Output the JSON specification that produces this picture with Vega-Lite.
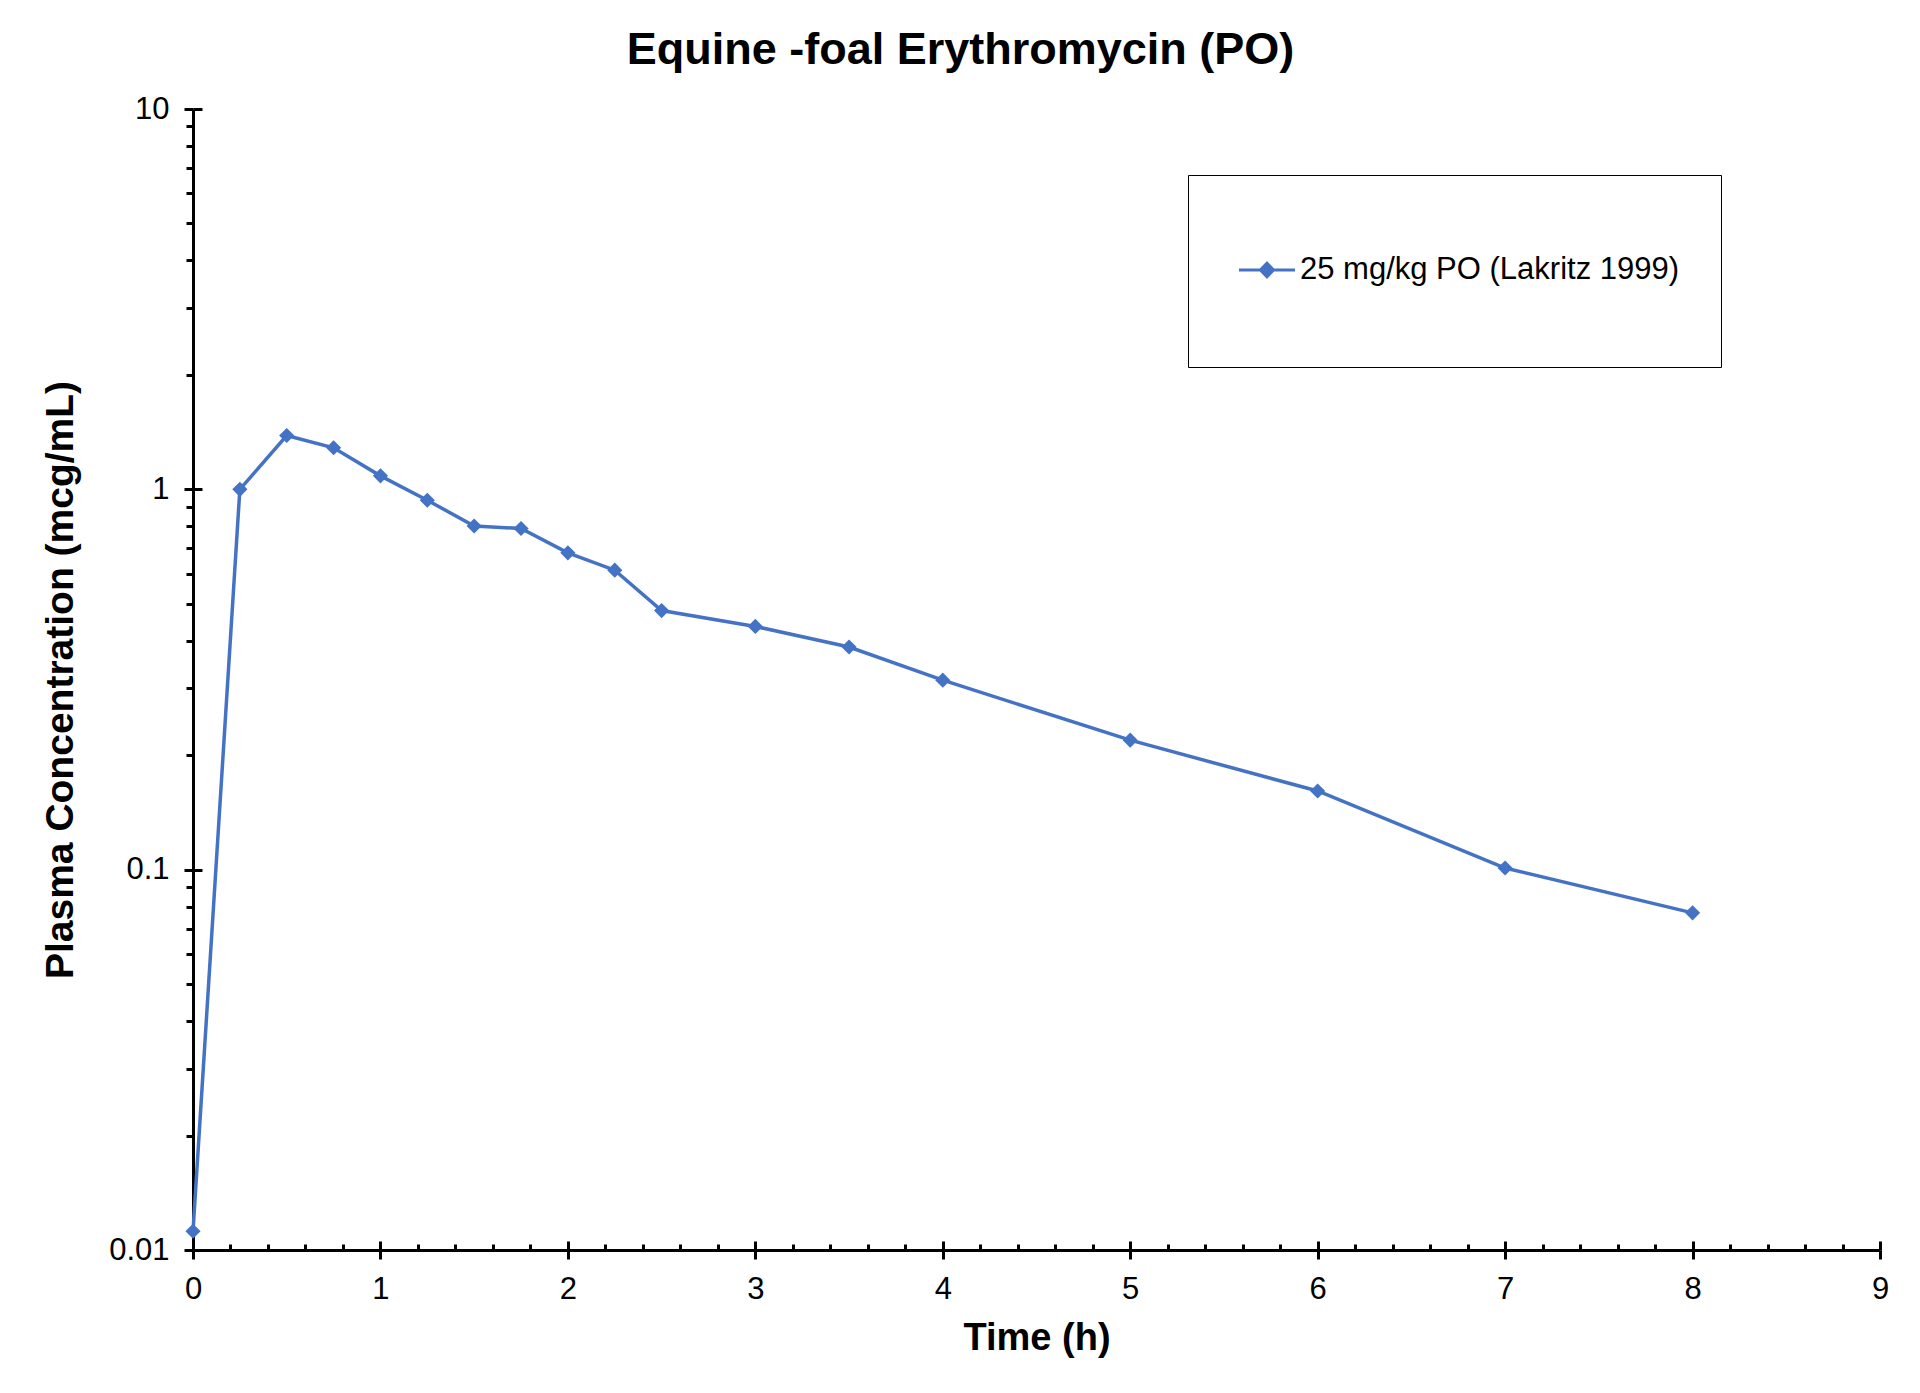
{
  "$schema": "https://vega.github.io/schema/vega-lite/v6.json",
  "width": 1687,
  "height": 1141,
  "autosize": "none",
  "padding": {"left": 193, "top": 109, "right": 40, "bottom": 143},
  "background": "white",
  "config": {"view": {"stroke": null}, "font": "Liberation Sans", "axis": {"grid": false}},
  "title": {"text": "Equine -foal Erythromycin (PO)", "font": "Liberation Sans", "fontSize": 45, "fontWeight": "bold", "color": "black", "anchor": "middle", "frame": "group", "dx": -76, "dy": 45, "offset": 29, "baseline": "alphabetic"},
  "data": {"values": [
    {"t": 0, "c": 0.0112, "series": "25 mg/kg PO (Lakritz 1999)"},
    {"t": 0.25, "c": 1.0, "series": "25 mg/kg PO (Lakritz 1999)"},
    {"t": 0.5, "c": 1.385, "series": "25 mg/kg PO (Lakritz 1999)"},
    {"t": 0.75, "c": 1.286, "series": "25 mg/kg PO (Lakritz 1999)"},
    {"t": 1, "c": 1.085, "series": "25 mg/kg PO (Lakritz 1999)"},
    {"t": 1.25, "c": 0.936, "series": "25 mg/kg PO (Lakritz 1999)"},
    {"t": 1.5, "c": 0.801, "series": "25 mg/kg PO (Lakritz 1999)"},
    {"t": 1.75, "c": 0.789, "series": "25 mg/kg PO (Lakritz 1999)"},
    {"t": 2, "c": 0.681, "series": "25 mg/kg PO (Lakritz 1999)"},
    {"t": 2.25, "c": 0.613, "series": "25 mg/kg PO (Lakritz 1999)"},
    {"t": 2.5, "c": 0.48, "series": "25 mg/kg PO (Lakritz 1999)"},
    {"t": 3, "c": 0.436, "series": "25 mg/kg PO (Lakritz 1999)"},
    {"t": 3.5, "c": 0.385, "series": "25 mg/kg PO (Lakritz 1999)"},
    {"t": 4, "c": 0.315, "series": "25 mg/kg PO (Lakritz 1999)"},
    {"t": 5, "c": 0.219, "series": "25 mg/kg PO (Lakritz 1999)"},
    {"t": 6, "c": 0.161, "series": "25 mg/kg PO (Lakritz 1999)"},
    {"t": 7, "c": 0.101, "series": "25 mg/kg PO (Lakritz 1999)"},
    {"t": 8, "c": 0.077, "series": "25 mg/kg PO (Lakritz 1999)"}
  ]},
  "layer": [
    {
      "mark": {"type": "line", "color": "#4472C4", "strokeWidth": 3.5},
      "encoding": {
        "x": {"field": "t", "type": "quantitative", "scale": {"domain": [0, 9], "nice": false, "zero": false},
          "axis": {"orient": "bottom", "values": [0, 1, 2, 3, 4, 5, 6, 7, 8, 9], "format": "d", "title": "Time (h)",
            "domain": true, "domainColor": "black", "domainWidth": 3, "ticks": true, "tickSize": 9, "tickWidth": 3, "tickColor": "black",
            "labelFont": "Liberation Sans", "labelFontSize": 31, "labelColor": "black", "labelPadding": 15, "labelFlush": false, "labelOverlap": false,
            "titleFont": "Liberation Sans", "titleFontSize": 38, "titleFontWeight": "bold", "titleColor": "black", "titlePadding": 15}},
        "y": {"field": "c", "type": "quantitative", "scale": {"type": "log", "domain": [0.01, 10], "nice": false},
          "axis": {"orient": "left", "values": [0.01, 0.1, 1, 10], "format": "~g", "title": "Plasma Concentration (mcg/mL)",
            "domain": true, "domainColor": "black", "domainWidth": 3, "ticks": true, "tickSize": 9, "tickWidth": 3, "tickColor": "black",
            "labelFont": "Liberation Sans", "labelFontSize": 31, "labelColor": "black", "labelPadding": 15, "labelFlush": false, "labelOverlap": false,
            "titleFont": "Liberation Sans", "titleFontSize": 39, "titleFontWeight": "bold", "titleColor": "black", "titlePadding": 28}}
      }
    },
    {
      "mark": {"type": "point", "shape": "diamond", "filled": true, "size": 230, "opacity": 1},
      "encoding": {
        "x": {"field": "t", "type": "quantitative",
          "axis": {"orient": "bottom", "values": [0.2, 0.4, 0.6, 0.8, 1.2, 1.4, 1.6, 1.8, 2.2, 2.4, 2.6, 2.8, 3.2, 3.4, 3.6, 3.8, 4.2, 4.4, 4.6, 4.8, 5.2, 5.4, 5.6, 5.8, 6.2, 6.4, 6.6, 6.8, 7.2, 7.4, 7.6, 7.8, 8.2, 8.4, 8.6, 8.8],
            "domain": false, "labels": false, "title": null, "ticks": true, "tickSize": -6, "tickWidth": 3, "tickColor": "black"}},
        "y": {"field": "c", "type": "quantitative",
          "axis": {"orient": "left", "values": [0.02, 0.03, 0.04, 0.05, 0.06, 0.07, 0.08, 0.09, 0.2, 0.3, 0.4, 0.5, 0.6, 0.7, 0.8, 0.9, 2, 3, 4, 5, 6, 7, 8, 9],
            "domain": false, "labels": false, "title": null, "ticks": true, "tickSize": 7, "tickWidth": 3, "tickColor": "black"}},
        "color": {"field": "series", "type": "nominal", "scale": {"range": ["#4472C4"]},
          "legend": {"orient": "none", "legendX": 995, "legendY": 66, "title": null, "strokeColor": "black", "fillColor": "white", "padding": 41,
            "labelFont": "Liberation Sans", "labelFontSize": 31, "labelColor": "black", "labelOffset": -37, "labelLimit": 1000,
            "symbolSize": 11025, "symbolType": "M-0.838,0L0.229,0M-0.305,-0.13L-0.18,0L-0.305,0.13L-0.43,0ZM0,-0.943M0,0.943", "symbolStrokeWidth": 3,
            "symbolFillColor": "#4472C4", "symbolStrokeColor": "#4472C4",
            "encode": {"symbols": {"update": {"size": {"value": 11025}, "shape": {"value": "M-0.838,0L0.229,0M-0.305,-0.13L-0.18,0L-0.305,0.13L-0.43,0ZM0,-0.943M0,0.943"}, "fill": {"value": "#4472C4"}, "stroke": {"value": "#4472C4"}, "strokeWidth": {"value": 3}, "opacity": {"value": 1}}}}}}
      }
    },
    {
      "mark": {"type": "point", "opacity": 0},
      "encoding": {
        "x": {"field": "t", "type": "quantitative",
          "axis": {"orient": "bottom", "values": [0, 1, 2, 3, 4, 5, 6, 7, 8, 9], "domain": false, "labels": false, "title": null, "ticks": true, "tickSize": -9, "tickWidth": 3, "tickColor": "black"}},
        "y": {"field": "c", "type": "quantitative",
          "axis": {"orient": "left", "values": [0.01, 0.1, 1, 10], "domain": false, "labels": false, "title": null, "ticks": true, "tickSize": -9, "tickWidth": 3, "tickColor": "black"}}
      }
    }
  ],
  "resolve": {"axis": {"x": "independent", "y": "independent"}}
}
